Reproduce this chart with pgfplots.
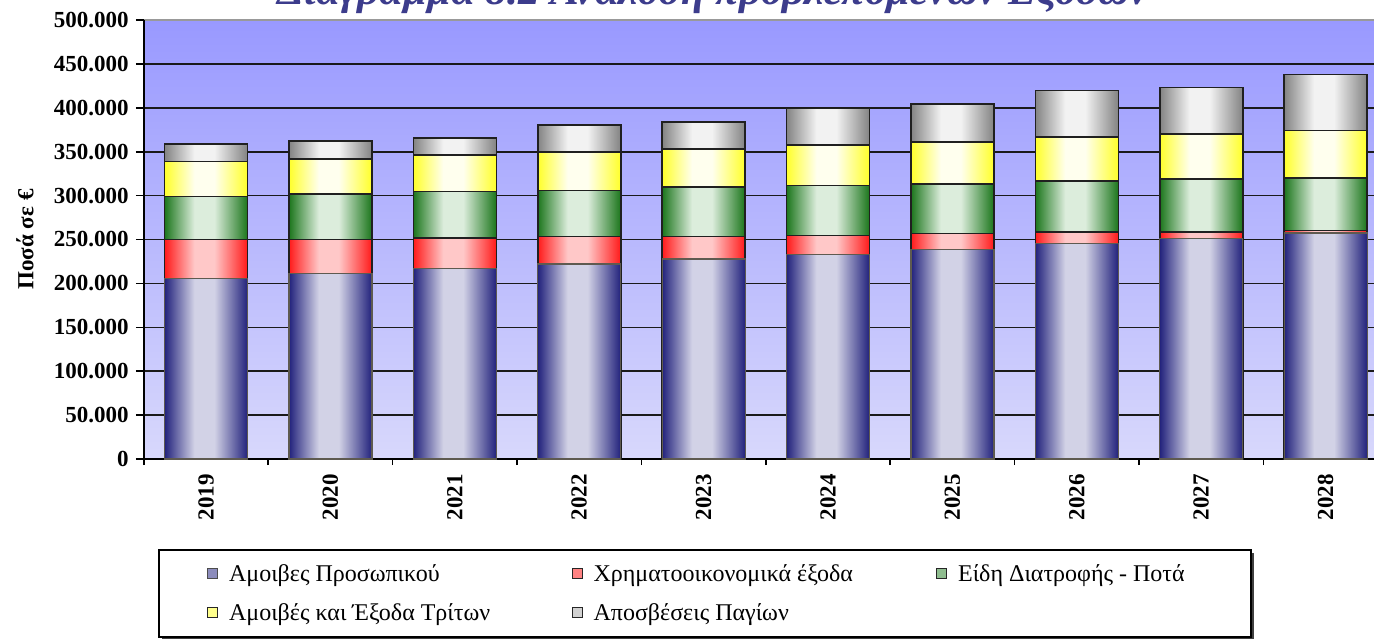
\documentclass[border=0pt]{standalone}
\usepackage{pgfplots}
\usepackage{pgfplotstable}
\pgfplotsset{compat=1.18}
\usepackage{fontspec}
\setmainfont{Liberation Serif}
\usetikzlibrary{shadows}

% colours
\definecolor{titlecol}{HTML}{3C3C8C}
\definecolor{bgtop}{HTML}{9999FF}
\definecolor{bgbot}{HTML}{D8D8FC}
\definecolor{gridcol}{HTML}{1A1A1A}
\definecolor{blueDk}{HTML}{22227C}
\definecolor{blueLt}{HTML}{D2D2E6}
\definecolor{redDk}{HTML}{FF1A1A}
\definecolor{redLt}{HTML}{FFC8C8}
\definecolor{greenDk}{HTML}{1C761C}
\definecolor{greenLt}{HTML}{DCEDDC}
\definecolor{yellowDk}{HTML}{FFFF2A}
\definecolor{yellowLt}{HTML}{FFFFEE}
\definecolor{grayDk}{HTML}{838383}
\definecolor{grayLt}{HTML}{F2F2F2}
\definecolor{blueEdge}{HTML}{5E5A50}
\definecolor{segEdge}{HTML}{202020}

% cylinder-like horizontal shadings (the middle 50bp are fitted to each bar)
\pgfdeclarehorizontalshading{shBlue}{100bp}{color(0bp)=(blueDk); color(25bp)=(blueDk); color(43bp)=(blueLt); color(55bp)=(blueLt); color(75bp)=(blueDk); color(100bp)=(blueDk)}
\pgfdeclarehorizontalshading{shRed}{100bp}{color(0bp)=(redDk); color(25bp)=(redDk); color(43bp)=(redLt); color(55bp)=(redLt); color(75bp)=(redDk); color(100bp)=(redDk)}
\pgfdeclarehorizontalshading{shGreen}{100bp}{color(0bp)=(greenDk); color(25bp)=(greenDk); color(43bp)=(greenLt); color(55bp)=(greenLt); color(75bp)=(greenDk); color(100bp)=(greenDk)}
\pgfdeclarehorizontalshading{shYellow}{100bp}{color(0bp)=(yellowDk); color(25bp)=(yellowDk); color(43bp)=(yellowLt); color(55bp)=(yellowLt); color(75bp)=(yellowDk); color(100bp)=(yellowDk)}
\pgfdeclarehorizontalshading{shGray}{100bp}{color(0bp)=(grayDk); color(25bp)=(grayDk); color(43bp)=(grayLt); color(55bp)=(grayLt); color(75bp)=(grayDk); color(100bp)=(grayDk)}

% yearly expenses by category (thousand euro)
\pgfplotstableread{
x  pers   fin   food  third  depr
0  206.0  44.0  49.0  40.0  20.0
1  211.0  39.0  52.0  40.0  20.0
2  217.0  34.5  53.0  41.7  19.7
3  222.0  31.4  52.6  43.6  31.1
4  227.7  25.7  56.4  43.2  31.0
5  232.8  21.8  56.9  45.8  41.9
6  238.5  18.4  56.5  47.6  43.6
7  245.8  12.6  58.4  50.0  53.0
8  251.5   7.3  60.2  51.2  53.1
9  257.3   3.0  59.9  53.8  63.8
}\costdata
% running totals: top edge of each stacked segment
\pgfplotstablecreatecol[expr={\thisrow{pers}+\thisrow{fin}}]{cFin}\costdata
\pgfplotstablecreatecol[expr={\thisrow{cFin}+\thisrow{food}}]{cFood}\costdata
\pgfplotstablecreatecol[expr={\thisrow{cFood}+\thisrow{third}}]{cThird}\costdata
\pgfplotstablecreatecol[expr={\thisrow{cThird}+\thisrow{depr}}]{cDepr}\costdata

% legend cell text of fixed width
\newcommand{\legtext}[2]{\makebox[#1][l]{\hspace{5.5pt}\rule[-6.15pt]{0pt}{19.5pt}#2}}

% keeps the legend frame's shadow off the small swatches
\makeatletter
\tikzset{no preactions/.code={\let\tikz@preactions\pgfutil@empty}}
\makeatother

\pgfplotsset{
  segment/.style={ybar, bar width=41.5pt, bar shift=0pt, forget plot,
    draw=segEdge, line width=0.8pt, shade, shading=#1},
  oneyear/.style={x filter/.expression={abs(x-#1)<0.1 ? x : nan}},
}

\begin{document}
\begin{tikzpicture}
\useasboundingbox (0pt,0pt) rectangle (687pt,319pt);
\clip (0pt,0pt) rectangle (687pt,319pt);

\node[font=\fontsize{21.5}{25}\selectfont\bfseries\itshape, text=titlecol, anchor=base]
  at (356.5pt,316.8pt) {Διάγραμμα 8.2 Ανάλυση προβλεπόμενων Εξόδων};

\begin{axis}[
  at={(71.9pt,89.5pt)}, anchor=south west,
  scale only axis, width=622pt, height=219.5pt,
  xmin=-0.5, xmax=9.5, ymin=0, ymax=500,
  axis background/.style={top color=bgtop, bottom color=bgbot, draw=gray!80, line width=0.8pt},
  axis x line*=bottom, axis y line*=left,
  axis line style={-, black, line width=0.8pt},
  tick align=outside,
  xtick={0,...,9},
  xticklabels={2019,2020,2021,2022,2023,2024,2025,2026,2027,2028},
  major x tick style={draw=none},
  minor xtick={-0.5,0.5,...,9.5},
  minor tick length=3pt, major tick length=4pt,
  tick style={black, line width=0.8pt},
  xticklabel style={rotate=90, anchor=east, font=\bfseries\fontsize{11.5}{13}\selectfont},
  ytick={0,50,...,450},
  yticklabels={0,50.000,100.000,150.000,200.000,250.000,300.000,350.000,400.000,450.000},
  extra y ticks={500},
  extra y tick labels={500.000},
  extra y tick style={grid=none},
  yticklabel style={font=\bfseries\fontsize{11.5}{13}\selectfont},
  ymajorgrids, grid style={gridcol, line width=0.8pt},
  ylabel={Ποσά σε €},
  ylabel style={font=\bfseries\fontsize{11.5}{13}\selectfont,
    at={([xshift=-59.4pt]axis description cs:0,0.5)}, anchor=center},
  legend columns=3,
  legend cell align=left,
  legend style={at={(0.011415,-0.20501)}, anchor=north west,
    draw=black, line width=0.8pt, fill=white,
    inner xsep=0pt, inner ysep=2.25pt, column sep=0pt, row sep=0pt,
    nodes={inner sep=0pt, text depth=6.15pt},
    font=\fontsize{12}{14}\selectfont,
    drop shadow={shadow xshift=1.5pt, shadow yshift=-1.5pt, fill=black!75, opacity=1}},
]
% each segment is drawn from zero to its running total, top segment first,
% so that every bar gets its own shading
\pgfplotsinvokeforeach{0,...,9}{
  \addplot[segment=shGray, oneyear=#1] table[x=x, y=cDepr]{\costdata};
  \addplot[segment=shYellow, oneyear=#1] table[x=x, y=cThird]{\costdata};
  \addplot[segment=shGreen, oneyear=#1] table[x=x, y=cFood]{\costdata};
  \addplot[segment=shRed, oneyear=#1] table[x=x, y=cFin]{\costdata};
  \addplot[segment=shBlue, oneyear=#1, draw=blueEdge, line width=0.6pt] table[x=x, y=pers]{\costdata};
}

\addlegendimage{legend image code/.code={\path (-24pt,0pt); \draw[no preactions, draw=black!70, line width=0.5pt, fill=blueLt!60!blueDk] (0pt,-2.5pt) rectangle (5pt,2.5pt);}}
\addlegendentry{\legtext{176.75pt}{Αμοιβες Προσωπικού}}
\addlegendimage{legend image code/.code={\draw[no preactions, draw=black!85, line width=0.5pt, fill=redLt!60!redDk] (0pt,-2.5pt) rectangle (5pt,2.5pt);}}
\addlegendentry{\legtext{176.75pt}{Χρηματοοικονομικά έξοδα}}
\addlegendimage{legend image code/.code={\draw[no preactions, draw=black!85, line width=0.5pt, fill=greenLt!60!greenDk] (0pt,-2.5pt) rectangle (5pt,2.5pt);}}
\addlegendentry{\legtext{152pt}{Είδη Διατροφής - Ποτά}}
\addlegendimage{legend image code/.code={\path (-24pt,0pt); \draw[no preactions, draw=black!85, line width=0.5pt, fill=yellowLt!50!yellowDk] (0pt,-2.5pt) rectangle (5pt,2.5pt);}}
\addlegendentry{\legtext{176.75pt}{Αμοιβές και Έξοδα Τρίτων}}
\addlegendimage{legend image code/.code={\draw[no preactions, draw=black!85, line width=0.5pt, fill=grayLt!70!grayDk] (0pt,-2.5pt) rectangle (5pt,2.5pt);}}
\addlegendentry{\legtext{176.75pt}{Αποσβέσεις Παγίων}}
\end{axis}
\end{tikzpicture}
\end{document}
